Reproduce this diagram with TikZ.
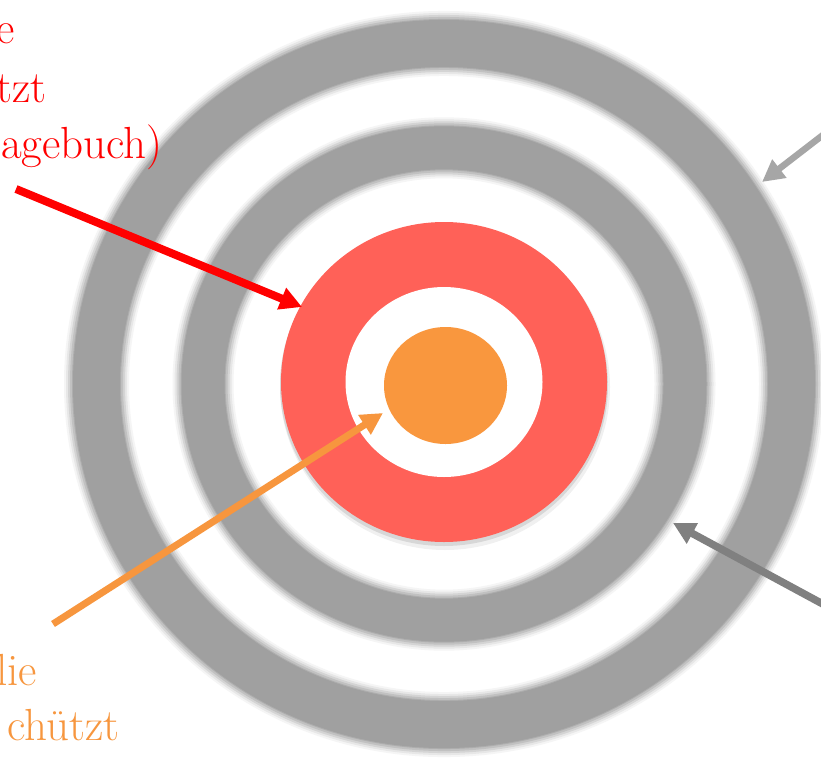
\documentclass[tikz,border=0pt]{standalone}
\usetikzlibrary{arrows.meta}
\definecolor{ringgray}{RGB}{160,160,160}
\definecolor{targetred}{RGB}{255,97,88}
\definecolor{targetorange}{RGB}{249,151,62}
\definecolor{arroworange}{RGB}{247,150,62}
\definecolor{lightarrow}{RGB}{166,166,166}
\definecolor{darkarrow}{RGB}{128,128,128}
\newcommand{\blurring}[3]{% center, x radius, core width
  \foreach \ex/\pc in {18/10,14/25,10/45,6/65,2/85,0/100}{
    \draw[draw=ringgray!\pc, line width=#3pt+\ex pt] #1 ellipse [x radius=#2pt, y radius=0.98*#2pt];
  }%
}
\begin{document}
\begin{tikzpicture}[x=1pt,y=-1pt,
  redlabel/.style={text=red, anchor=base east, inner sep=0pt, font=\fontsize{45}{54}\selectfont},
  orangelabel/.style={text=arroworange, anchor=base east, inner sep=0pt, font=\fontsize{45}{54}\selectfont},
  bigtip/.style={-{Triangle[length=22pt,width=22pt]}},
  redarrow/.style={bigtip, draw=red, line width=8pt},
  orangearrow/.style={bigtip, draw=arroworange, line width=7pt},
  lightgrayarrow/.style={bigtip, draw=lightarrow, line width=6.5pt},
  darkgrayarrow/.style={bigtip, draw=darkarrow, line width=7.5pt}]
\useasboundingbox (0,0) rectangle (821,771);
\clip (0,0) rectangle (821,771);
\fill[white] (0,0) rectangle (821,771);
% gray rings
\blurring{(444,384)}{347.5}{47}
\blurring{(444,384)}{241}{43}
% red disc shadow
\fill[black, opacity=0.06] (445,387) ellipse [x radius=165pt, y radius=163pt];
\fill[black, opacity=0.10] (444,385) ellipse [x radius=164pt, y radius=161pt];
% target
\fill[targetred] (444,382) ellipse [x radius=163pt, y radius=160pt];
\fill[white] (444,382) ellipse [x radius=98.5pt, y radius=95pt];
\fill[targetorange] (445.5,385.5) ellipse [x radius=61.5pt, y radius=58.5pt];
% labels
\node[redlabel] (r1) at (15,43) {e};
\node[redlabel] (r2) at (47,102) {tzt};
\node[redlabel] (r3) at (163,158) {agebuch)};
\node[orangelabel] (o1) at (37,685) {lie};
\node[orangelabel] (o2) at (120,740) {chützt};
% arrow ends
\coordinate (redstart) at (16,189);
\coordinate (redtip) at (302,307);
\coordinate (orangestart) at (53,624);
\coordinate (orangetip) at (383,413);
\coordinate (lgstart) at (845,118);
\coordinate (lgtip) at (762,182);
\coordinate (dgstart) at (845,616);
\coordinate (dgtip) at (673,523);
\draw[redarrow] (redstart) -- (redtip);
\draw[orangearrow] (orangestart) -- (orangetip);
\draw[lightgrayarrow] (lgstart) -- (lgtip);
\draw[darkgrayarrow] (dgstart) -- (dgtip);
\end{tikzpicture}
\end{document}
